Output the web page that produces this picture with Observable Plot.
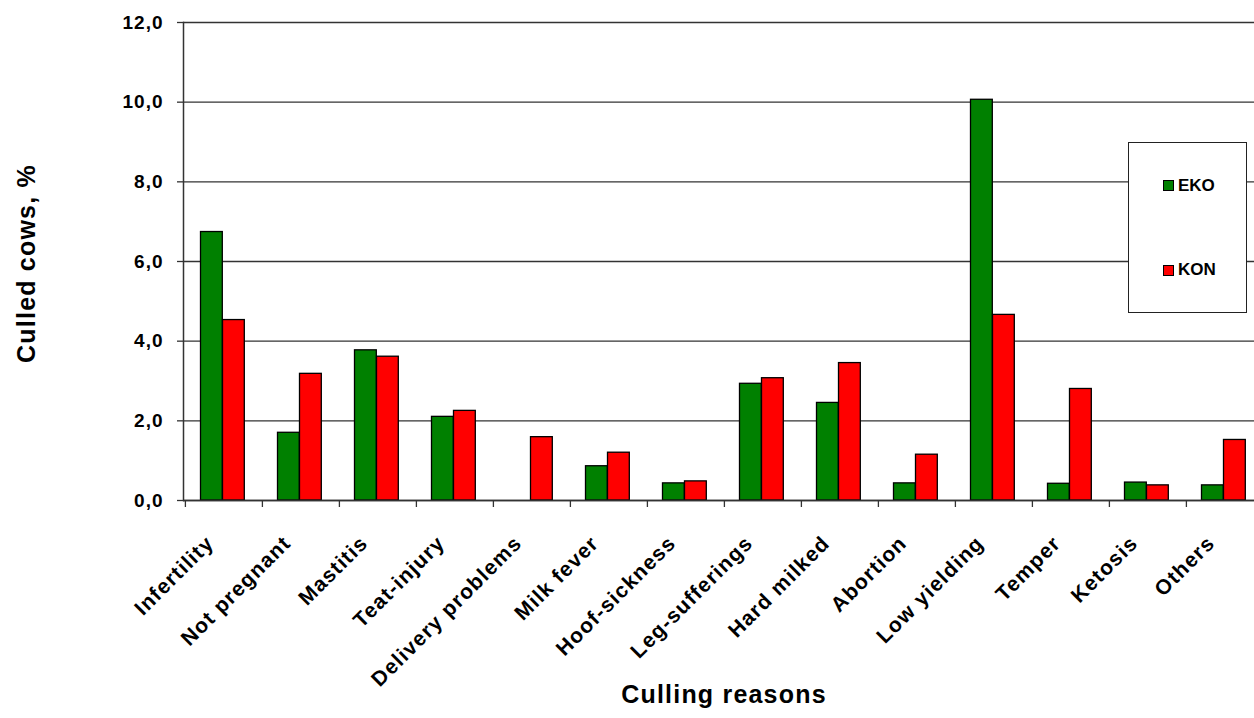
<!DOCTYPE html>
<html>
<head>
<meta charset="utf-8">
<script src="https://cdn.jsdelivr.net/npm/d3@7"></script>
<script src="https://cdn.jsdelivr.net/npm/@observablehq/plot@0.6"></script>
<style>
  html, body { margin: 0; padding: 0; background: #fff; }
  #wrap { position: relative; width: 1254px; height: 718px; overflow: hidden; font-family: "Liberation Sans", Arial, sans-serif; }
  #wrap svg { display: block; }
  #legend { position: absolute; left: 1128px; top: 142px; width: 117px; height: 169px; border: 1.3px solid #222; background: #fff; }
  .entry { position: absolute; left: 34px; display: flex; align-items: center; font-weight: bold; font-size: 17px; color: #000; }
  .sw { width: 9px; height: 9px; border: 1px solid #000; margin-right: 4px; }
</style>
</head>
<body>
<div id="wrap"></div>
<script>
const categories = ["Infertility", "Not pregnant", "Mastitis", "Teat-injury", "Delivery problems", "Milk fever", "Hoof-sickness", "Leg-sufferings", "Hard milked", "Abortion", "Low yielding", "Temper", "Ketosis", "Others"];
const ekoValues = [6.74, 1.70, 3.77, 2.10, 0.0, 0.86, 0.43, 2.93, 2.45, 0.43, 10.06, 0.42, 0.45, 0.38];
const konValues = [4.53, 3.18, 3.61, 2.25, 1.59, 1.20, 0.48, 3.07, 3.45, 1.15, 4.66, 2.80, 0.38, 1.52];
const seriesNames = ["EKO", "KON"];
const seriesColors = ["#008000", "#ff0000"];
const yTicks = [0, 2, 4, 6, 8, 10, 12];
const xTitle = "Culling reasons";
const yTitle = "Culled cows, %";

const ekoData = categories.map((c, i) => ({category: c, value: ekoValues[i]}));
const konData = categories.map((c, i) => ({category: c, value: konValues[i]}));
const fmt = d => d.toFixed(1).replace(".", ",");

const chart = Plot.plot({
  width: 1254,
  height: 718,
  marginTop: 22,
  marginBottom: 218,
  marginLeft: 183,
  marginRight: -10,
  x: {domain: categories, padding: 0, axis: null},
  y: {domain: [0, 12], axis: null},
  style: {fontFamily: "'Liberation Sans', Arial, sans-serif", fontWeight: "bold", background: "#fff", color: "#000"},
  marks: [
    Plot.gridY(yTicks, {stroke: "#333", strokeOpacity: 1, strokeWidth: 1.3}),
    Plot.barY(ekoData, {x: "category", y: "value", fill: seriesColors[0], stroke: "#000", strokeWidth: 1.3, insetLeft: 15.5, insetRight: 39.7}),
    Plot.barY(konData, {x: "category", y: "value", fill: seriesColors[1], stroke: "#000", strokeWidth: 1.3, insetLeft: 37.5, insetRight: 17.7}),
    Plot.ruleY([0], {stroke: "#333", strokeWidth: 1.5}),
    Plot.frame({anchor: "left", stroke: "#333", strokeWidth: 1.5}),
    Plot.axisX({ticks: categories, tickSize: 7, tickFormat: () => "", dx: -38.6, stroke: "#333", strokeWidth: 1.3, label: null}),
    Plot.axisY({ticks: yTicks, tickSize: 6, tickPadding: 14, tickFormat: fmt, fontSize: 19, fontWeight: "bold", stroke: "#333", strokeWidth: 1.3, label: null}),
    Plot.text(categories, {x: d => d, frameAnchor: "bottom", rotate: -45, textAnchor: "end", lineAnchor: "bottom", dy: 44, dx: -9, fontSize: 21, fontWeight: "bold", fill: "#000"}),
    Plot.text([xTitle], {frameAnchor: "bottom", dy: 202, fontSize: 25, fontWeight: "bold", fill: "#000"}),
    Plot.text([yTitle], {frameAnchor: "left", textAnchor: "middle", dx: -157, dy: 2, rotate: -90, fontSize: 25, fontWeight: "bold", fill: "#000"})
  ]
});

// typographic tuning: the reference glyphs are slightly wider than the font
const tickTexts = new Set(yTicks.map(fmt));
const catTexts = new Set(categories);
d3.select(chart).selectAll("text").each(function() {
  const t = this.textContent;
  const s = d3.select(this);
  if (tickTexts.has(t)) s.style("font-size", "19px").style("letter-spacing", "1px");
  else if (catTexts.has(t)) s.style("font-size", "21px").style("letter-spacing", "1.2px");
  else if (t === xTitle || t === yTitle) s.style("letter-spacing", "1.2px");
});

const wrap = document.getElementById("wrap");
wrap.appendChild(chart);

const legend = document.createElement("div");
legend.id = "legend";
const rowCenters = [42.7, 127.3];
seriesNames.forEach((name, i) => {
  const entry = document.createElement("div");
  entry.className = "entry";
  entry.style.top = (rowCenters[i] - 10) + "px";
  entry.style.height = "20px";
  const sw = document.createElement("div");
  sw.className = "sw";
  sw.style.background = seriesColors[i];
  const t = document.createElement("span");
  t.textContent = name;
  entry.appendChild(sw);
  entry.appendChild(t);
  legend.appendChild(entry);
});
wrap.appendChild(legend);
</script>
</body>
</html>
